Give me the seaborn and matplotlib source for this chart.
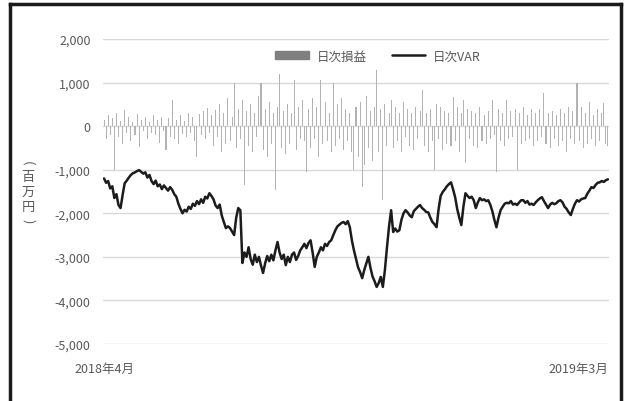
import matplotlib
matplotlib.use("Agg")
import matplotlib.pyplot as plt
import matplotlib.patches as mpatches
from matplotlib.lines import Line2D
import matplotlib.transforms as mtransforms
import numpy as np
import pandas as pd
import seaborn as sns

# Daily VaR (million yen), April 2018 - March 2019
daily_var = [
    -1200, -1300, -1260, -1430, -1380, -1650, -1560, -1810, -1880, -1580,
    -1310, -1250, -1180, -1120, -1080, -1060, -1030, -1010, -1050, -1090,
    -1060, -1180, -1120, -1260, -1330, -1250, -1380, -1340, -1445, -1360,
    -1420, -1480, -1400, -1460, -1560, -1620, -1780, -1900, -2000, -1920,
    -1960, -1850, -1900, -1780, -1830, -1720, -1790, -1680, -1760, -1620,
    -1660, -1540, -1600, -1680, -1820, -1880, -1800, -2050, -2200, -2340,
    -2300, -2340, -2420, -2500, -2100, -1880, -1930, -3140, -2900, -3000,
    -2780, -3050, -3180, -2950, -3120, -3000, -3200, -3370, -3150, -2980,
    -3100, -2950, -3080, -2850, -2660, -2900, -3050, -2950, -3190, -3000,
    -3120, -2950, -2900, -3070, -2980, -2850, -2780, -2700, -2800, -2680,
    -2620, -2900, -3230, -3000, -2900, -2780, -2850, -2700, -2750, -2660,
    -2620, -2500, -2390, -2300, -2260, -2220, -2200, -2250, -2180, -2320,
    -2620, -2850, -3050, -3240, -3350, -3490, -3300, -3150, -3000, -3250,
    -3450, -3560, -3690, -3600, -3460, -3690, -3300, -2780, -2300, -1930,
    -2430, -2350, -2420, -2390, -2150, -2000, -1930, -1980, -2050, -2090,
    -1950, -1900, -1850, -1810, -1880, -1920, -1970, -1980, -2100, -2200,
    -2250, -2320, -1900, -1600, -1510, -1450, -1380, -1330, -1290, -1450,
    -1630, -1900, -2100, -2270, -1850, -1540, -1600, -1650, -1620, -1700,
    -1880, -1750, -1650, -1700, -1680, -1720, -1700, -1800, -1950, -2150,
    -2320, -2100, -1930, -1850, -1780, -1760, -1770, -1720, -1800, -1780,
    -1810, -1750, -1700, -1700, -1760, -1720, -1800, -1780, -1810, -1750,
    -1700, -1660, -1630, -1720, -1800, -1880, -1800, -1760, -1790, -1770,
    -1720, -1700, -1750, -1850, -1900, -1980, -2040, -1900, -1780, -1700,
    -1730, -1680, -1660, -1650, -1550, -1480, -1400, -1420, -1350, -1300,
    -1290, -1260, -1280, -1240, -1220,
]

# Daily profit and loss (million yen)
daily_pnl = [
    150, -300, 250, -200, 180, -1000, 300, -250, 120, -400,
    370, -150, 200, -350, 100, -200, 280, -480, 150, -120,
    220, -300, 90, -150, 260, -200, 140, -380, 200, -100,
    -550, 180, -250, 600, -300, 150, -420, 250, -180, 120,
    -250, 300, -160, 200, -350, -700, 280, -200, 350, -300,
    420, -150, 250, -450, 380, -250, 500, -600, 300, -400,
    650, -350, 200, 1000, -500, 400, -300, 600, -1350, 350,
    -450, 500, -600, 300, -250, 700, 1000, -550, 400, -700,
    550, -400, 300, -1470, 450, 1200, -500, 350, -650, 500,
    -400, 300, 1050, -550, 450, -300, 600, -350, -1050, 400,
    -500, 650, -300, 450, -700, 1050, -400, 550, -350, 300,
    -600, 1000, -450, 500, -300, 650, -550, 400, -350, 300,
    -600, -1000, 450, -700, 550, -1400, -900, 700, -500, 350,
    -800, 450, 1300, -600, 400, -1700, 500, -450, 300, 600,
    -500, 450, -350, 300, -600, 550, -250, 400, -450, 300,
    -550, 450, -300, 350, 830, -450, 300, -600, 400, -350,
    -1000, 500, -300, 450, -550, 350, -400, 300, -450, 680,
    -350, 450, -600, 300, 600, -850, 400, -300, 350, -450,
    300, -500, 450, -350, 250, -400, 350, -300, 600, -200,
    -1050, 400, -350, 300, -450, 600, -300, 350, -250, 400,
    -1000, 300, -400, 450, -350, 250, -300, 400, -450, 300,
    -350, 400, -250, 750, -400, 300, -500, 350, -300, 250,
    -450, 400, -350, 300, -600, 450, -300, 350, -400, 1000,
    -350, 450, -500, 300, -400, 550, -300, 250, -450, 400,
    -350, 300, 530, -400, -450,
]

y_ticks = [2000, 1000, 0, -1000, -2000, -3000, -4000, -5000]
y_tick_labels = ["2,000", "1,000", "0", "-1,000", "-2,000", "-3,000", "-4,000", "-5,000"]
x_tick_labels = ["2018年4月", "2019年3月"]
series_names = ["日次損益", "日次VAR"]
y_title_chars = ["(", "百", "万", "円", ")"]

df = pd.DataFrame({
    "day": np.arange(len(daily_var)),
    "var": daily_var,
    "pnl": daily_pnl,
})

sns.set_style("white")
plt.rcParams["font.family"] = ["Noto Sans CJK JP", "DejaVu Sans"]

W, H = 624, 402
fig = plt.figure(figsize=(W / 100, H / 100), dpi=100)
ax = fig.add_axes([103 / W, 57 / H, 506 / W, 305 / H])

text_gray = "#595959"
bar_gray = "#b3b3b3"
line_color = "#1c1c1c"

for t in y_ticks:
    ax.axhline(t, color="#d9d9d9", lw=1.0, zorder=0)

sns.barplot(data=df, x="day", y="pnl", native_scale=True, color=bar_gray,
            width=0.5, linewidth=0, ax=ax, zorder=2)
sns.lineplot(data=df, x="day", y="var", color=line_color, lw=1.8, ax=ax, zorder=3)

ax.set_ylim(-5000, 2000)
ax.set_xlim(-0.5, len(daily_var) - 0.5)
ax.set_yticks(y_ticks)
ax.set_yticklabels(y_tick_labels, color=text_gray, fontsize=9)
ax.set_xticks([0, len(daily_var) - 1])
ax.set_xticklabels(x_tick_labels, color=text_gray, fontsize=9)
xl = ax.get_xticklabels()
xl[1].set_ha("right")
xl[1].set_transform(xl[1].get_transform() + mtransforms.ScaledTranslation(9 / 100, 0, fig.dpi_scale_trans))
ax.tick_params(axis="both", length=0)
ax.tick_params(axis="y", pad=9)
ax.tick_params(axis="x", pad=13)
ax.set_xlabel("")
ax.set_ylabel("")
for s in ax.spines.values():
    s.set_visible(False)

# Stacked vertical axis title: upright kanji, brackets turned sideways
title_y = [163, 177, 192, 207, 221]
for ch, yy in zip(y_title_chars, title_y):
    rot = -90 if ch in ("(", ")") else 0
    fig.text(28 / W, 1 - yy / H, ch, color=text_gray, fontsize=9.5,
             ha="center", va="center", rotation=rot, rotation_mode="anchor")

handles = [
    mpatches.Patch(color="#7f7f7f", label=series_names[0]),
    Line2D([0], [0], color=line_color, lw=1.8, label=series_names[1]),
]
leg = fig.legend(handles=handles, loc="center", bbox_to_anchor=(378 / W, 1 - 57 / H),
                 ncol=2, frameon=False, fontsize=9, handlelength=2.7,
                 handleheight=0.6, handletextpad=0.6, columnspacing=2.0)
for t in leg.get_texts():
    t.set_color(text_gray)

# Outer frame: left, top and right edges
frame_kw = dict(color="#1a1a1a", lw=2.5, transform=fig.transFigure, solid_capstyle="projecting")
x0, x1, y_top = 9.5 / W, 620.5 / W, 1 - 4.5 / H
fig.add_artist(Line2D([x0, x0], [0, y_top], **frame_kw))
fig.add_artist(Line2D([x1, x1], [0, y_top], **frame_kw))
fig.add_artist(Line2D([x0, x1], [y_top, y_top], **frame_kw))

fig.savefig("out.png", dpi=100)
